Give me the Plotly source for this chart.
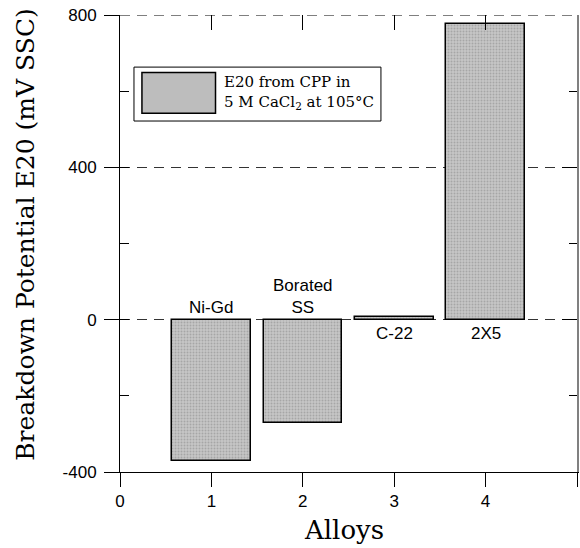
import plotly.graph_objects as go

alloys_x = [1, 2, 3, 4]
e20_values = [-372, -272, 7, 776]
bar_labels = ["Ni-Gd", "Borated<br>SS", "C-22", "2X5"]
label_above = [True, True, False, False]
x_ticks = [0, 1, 2, 3, 4, 5]
y_ticks = [-400, 0, 400, 800]
y_ticktext = ["-400", "0", "400", "800"]

fig = go.Figure()

fig.add_trace(go.Bar(
    x=alloys_x, y=e20_values, width=0.86,
    marker=dict(color="#c0c0c0",
                line=dict(color="black", width=1.5),
                pattern=dict(shape=".", size=3, solidity=0.35,
                             fgcolor="#858585", bgcolor="#c6c6c6")),
    showlegend=False, hoverinfo="skip"))

# invisible traces to activate the overlay axes
fig.add_trace(go.Scatter(x=[None], y=[None], xaxis="x2", yaxis="y", showlegend=False))
fig.add_trace(go.Scatter(x=[None], y=[None], xaxis="x", yaxis="y2", showlegend=False))
fig.add_trace(go.Scatter(x=[None], y=[None], xaxis="x", yaxis="y3", showlegend=False))

tick_font = dict(family="Liberation Sans, Arial", size=17, color="black")

fig.update_layout(
    width=580, height=548,
    margin=dict(l=120, r=3, t=15, b=76),
    plot_bgcolor="white", paper_bgcolor="white",
    bargap=0,
    xaxis=dict(range=[0, 5], tickvals=x_ticks, ticks="outside", ticklen=14,
               tickwidth=1, tickcolor="black", showline=True, linecolor="black",
               linewidth=1, showgrid=False, zeroline=False, tickfont=tick_font),
    xaxis2=dict(range=[0, 5], overlaying="x", side="top", anchor="y",
                tickvals=x_ticks, ticks="inside", ticklen=15, tickcolor="black",
                showticklabels=False, showline=False, showgrid=False, zeroline=False),
    yaxis=dict(range=[-400, 800], tickvals=y_ticks, ticktext=y_ticktext,
               ticks="outside", ticklen=15,
               tickwidth=1, tickcolor="black", showline=True, linecolor="black",
               linewidth=1, showgrid=True, gridcolor="#333333", griddash="10px,7px",
               gridwidth=1, zeroline=False, tickfont=tick_font, ticklabelstandoff=4),
    yaxis2=dict(range=[-400, 800], overlaying="y", side="right", anchor="x",
                tickvals=y_ticks, ticks="inside", ticklen=15, tickcolor="black",
                minor=dict(dtick=200, tick0=0, ticks="inside", ticklen=8, tickcolor="black"),
                showticklabels=False, showline=True, linecolor="#808080", linewidth=2,
                showgrid=False, zeroline=False),
    yaxis3=dict(range=[-400, 800], overlaying="y", side="left", anchor="x",
                dtick=200, tick0=0, ticks="inside", ticklen=9, tickcolor="black",
                showticklabels=False, showline=False, showgrid=False, zeroline=False),
)

# dashed gridline along the top edge (800)
fig.add_shape(type="line", xref="paper", yref="y", x0=0, x1=1, y0=y_ticks[-1], y1=y_ticks[-1],
              line=dict(color="#555555", width=1.5, dash="10px,7px"), layer="below")

for xv, yv, lab, above in zip(alloys_x, e20_values, bar_labels, label_above):
    fig.add_annotation(x=xv, y=0, xref="x", yref="y", text=lab, showarrow=False,
                       font=dict(family="Liberation Sans, Arial", size=17, color="black"),
                       xanchor="center", yanchor="bottom" if above else "top",
                       yshift=1 if above else -2)

# axis titles
fig.add_annotation(x=-0.207, y=0.52, xref="paper", yref="paper",
                   text="Breakdown Potential E20 (mV SSC)", textangle=-90,
                   showarrow=False, xanchor="center", yanchor="middle",
                   font=dict(family="DejaVu Serif", size=25, color="black"))
fig.add_annotation(x=0.491, y=-0.127, xref="paper", yref="paper", text="Alloys",
                   showarrow=False, xanchor="center", yanchor="middle",
                   font=dict(family="DejaVu Serif", size=26, color="black"))

# legend box
fig.add_shape(type="rect", xref="paper", yref="paper", x0=0.0306, x1=0.571,
              y0=0.768, y1=0.886, line=dict(color="black", width=1),
              fillcolor="white", layer="above")
fig.add_shape(type="rect", xref="paper", yref="paper", x0=0.048, x1=0.209,
              y0=0.785, y1=0.874, line=dict(color="black", width=1.5),
              fillcolor="#bdbdbd", layer="above")
fig.add_annotation(x=0.223, y=0.8315, xref="paper", yref="paper",
                   text="E20 from CPP in<br>5 M CaCl<sub>2</sub> at 105°C",
                   showarrow=False, xanchor="left", yanchor="middle", align="left",
                   font=dict(family="DejaVu Serif", size=15, color="black"))

fig.write_html("out.html")
